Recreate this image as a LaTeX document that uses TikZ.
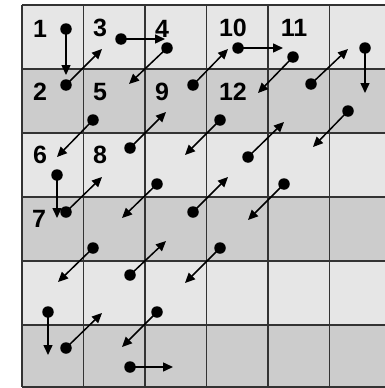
\documentclass[tikz,border=0pt]{standalone}
\usepackage{fontspec}
\setmainfont{Liberation Sans}
\usetikzlibrary{arrows.meta}
\definecolor{lightcell}{HTML}{E6E6E6}
\definecolor{darkcell}{HTML}{CCCCCC}
\definecolor{gridline}{HTML}{333333}
\tikzset{
  dot/.style={circle,fill=black,inner sep=0pt,minimum size=11.5pt},
  arr/.style={line width=1.5pt,-{Triangle[length=10pt,width=9pt]}},
  num/.style={font=\fontsize{25}{25}\selectfont\bfseries,inner sep=0pt},
  gridl/.style={draw=gridline,line width=1.8pt}
}
\begin{document}
\begin{tikzpicture}[x=1pt,y=-1pt]
\useasboundingbox (0,0) rectangle (385,388);
\begin{scope}
\clip (0,0) rectangle (385,388);
% row shading
\fill[lightcell] (22,5) rectangle (395,69);
\fill[darkcell] (22,69) rectangle (395,133);
\fill[lightcell] (22,133) rectangle (395,197);
\fill[darkcell] (22,197) rectangle (395,261);
\fill[lightcell] (22,261) rectangle (395,325);
\fill[darkcell] (22,325) rectangle (395,387);
% grid
\foreach \y in {5,69,133,197,261,325,387} \draw[gridl] (22,\y) -- (395,\y);
\foreach \x in {22,83.5,145,206.5,268,329.5,391} \draw[gridl] (\x,5) -- (\x,387);
\end{scope}
% labels
\node[num] (n1) at (40,29) {1};
\node[num] (n2) at (40,92) {2};
\node[num] (n3) at (100,28) {3};
\node[num] (n4) at (162,29) {4};
\node[num] (n5) at (100,92) {5};
\node[num] (n6) at (40,155) {6};
\node[num] (n7) at (39,219) {7};
\node[num] (n8) at (100,155) {8};
\node[num] (n9) at (162,92) {9};
\node[num] (n10) at (233,28) {10};
\node[num] (n11) at (294,28) {11};
\node[num] (n12) at (233,92) {12};
% dots and arrows
\foreach \i/\sx/\sy/\ex/\ey in {
  1/66/29/66/75,
  2/66/85/102/49,
  3/121/39/165/39,
  4/167/48/129/84,
  5/93/120/57/157,
  6/57/175/57/218,
  7/66/212/102/177,
  8/130/148/166/112,
  9/193/85/228/49,
  10/238/48/283/48,
  11/293/57/258/93,
  12/220/120/185/155,
  13/157/184/122/218,
  14/93/248/58/282,
  15/48/312/48/355,
  16/66/348/102/313,
  17/130/275/166/241,
  18/193/212/228/177,
  19/248/157/284/122,
  20/311/84/348/49,
  21/365/48/365/93,
  22/348/111/313/147,
  23/284/184/248/220,
  24/220/248/185/283,
  25/157/312/122/347,
  26/130/367/173/367}{
  \node[dot] (d\i) at (\sx,\sy) {};
  \coordinate (e\i) at (\ex,\ey);
  \draw[arr] (d\i.center) -- (e\i);
}
\end{tikzpicture}
\end{document}
